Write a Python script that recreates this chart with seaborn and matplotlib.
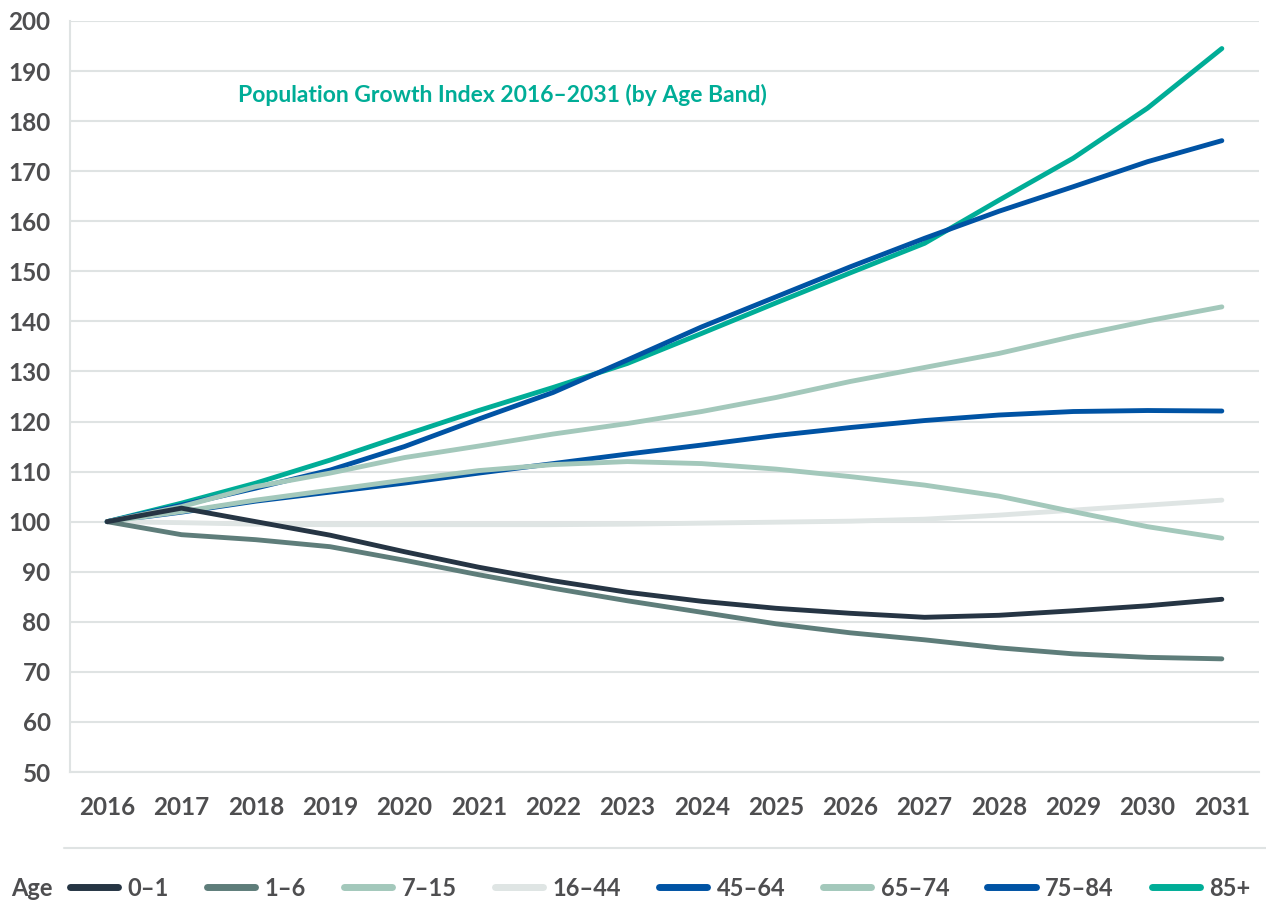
import matplotlib
matplotlib.use("Agg")
import matplotlib.pyplot as plt
import seaborn as sns
import pandas as pd
from matplotlib.lines import Line2D

years = list(range(2016, 2032))
bands = ["0–1", "1–6", "7–15", "16–44", "45–64", "65–74", "75–84", "85+"]
age_0_1 = [100, 102.7, 100.0, 97.3, 94.0, 90.9, 88.2, 85.9, 84.1, 82.7, 81.7, 80.9, 81.3, 82.2, 83.2, 84.5]
age_1_6 = [100, 97.4, 96.4, 95.0, 92.3, 89.4, 86.7, 84.2, 81.9, 79.6, 77.8, 76.4, 74.8, 73.6, 72.9, 72.6]
age_7_15 = [100, 102.0, 104.3, 106.3, 108.3, 110.2, 111.4, 112.0, 111.6, 110.5, 109.0, 107.3, 105.1, 102.0, 99.0, 96.7]
age_16_44 = [100, 99.8, 99.5, 99.4, 99.4, 99.4, 99.4, 99.5, 99.7, 99.9, 100.1, 100.5, 101.3, 102.3, 103.3, 104.3]
age_45_64 = [100, 101.9, 104.1, 105.9, 107.7, 109.7, 111.6, 113.5, 115.3, 117.2, 118.8, 120.2, 121.3, 122.0, 122.2, 122.1]
age_65_74 = [100, 103.0, 107.0, 109.7, 112.8, 115.1, 117.5, 119.6, 122.0, 124.8, 128.0, 130.8, 133.6, 137.0, 140.1, 142.9]
age_75_84 = [100, 103.3, 106.7, 110.3, 115.0, 120.5, 125.8, 132.3, 138.9, 144.9, 150.9, 156.6, 162.0, 166.9, 171.9, 176.1]
age_85_plus = [100, 103.7, 107.7, 112.3, 117.3, 122.2, 126.8, 131.6, 137.6, 143.7, 149.7, 155.6, 164.2, 172.6, 182.6, 194.5]
series = [age_0_1, age_1_6, age_7_15, age_16_44, age_45_64, age_65_74, age_75_84, age_85_plus]
colors = ["#263544", "#5e7d7a", "#a3c8bb", "#dfe5e4", "#0053a4", "#a3c8bb", "#0053a4", "#00ad97"]
title = "Population Growth Index 2016–2031 (by Age Band)"
y_ticks = list(range(50, 201, 10))

rows = []
for b, vals in zip(bands, series):
    for yr, v in zip(years, vals):
        rows.append({"Year": yr, "Band": b, "Index": v})
df = pd.DataFrame(rows)

sns.set_theme(style="white")
FAM = ["Lato", "DejaVu Sans"]
plt.rcParams["font.family"] = FAM
WEIGHT = "bold"

TXT = "#4e4e50"
GRID = "#dfe3e3"

fig = plt.figure(figsize=(12.66, 9.01), dpi=100)
ax = fig.add_axes([70 / 1266, 1 - 772 / 901, (1259 - 70) / 1266, (772 - 21) / 901])

for i in reversed(range(len(bands))):
    sub = df[df["Band"] == bands[i]]
    sns.lineplot(data=sub, x="Year", y="Index", color=colors[i], linewidth=3.5,
                 ax=ax, legend=False, solid_capstyle="round", zorder=3 + (len(bands) - i) * 0.01)

ax.set_xlim(years[0] - 0.5, years[-1] + 0.5)
ax.set_ylim(50, 200)
ax.set_yticks(y_ticks)
ax.set_xticks(years)
ax.set_xticks([y - 0.5 for y in years] + [years[-1] + 0.5], minor=True)
ax.set_xlabel("")
ax.set_ylabel("")
ax.grid(axis="y", color=GRID, linewidth=1.5, zorder=0)
ax.grid(axis="x", visible=False)
ax.set_axisbelow(True)

for s in ["top", "right"]:
    ax.spines[s].set_visible(False)
for s in ["left", "bottom"]:
    ax.spines[s].set_visible(True)
    ax.spines[s].set_color(GRID)
    ax.spines[s].set_linewidth(1.5)

ax.tick_params(axis="y", length=0, pad=14, labelsize=17.5, labelcolor=TXT)
ax.tick_params(axis="x", which="major", length=0, pad=17, labelsize=17.5, labelcolor=TXT)
ax.tick_params(axis="x", which="minor", direction="in", length=14, width=1.5, color=GRID)
for lab in ax.get_xticklabels() + ax.get_yticklabels():
    lab.set_fontweight(WEIGHT)

ax.text(238 / 1266, 1 - 95 / 901, title, transform=fig.transFigure, color="#00ad97",
        fontsize=16.5, fontweight=WEIGHT, ha="left", va="center")

# separator line above legend
fig.add_artist(Line2D([64 / 1266, 1.0], [1 - 848 / 901] * 2, transform=fig.transFigure,
                      color=GRID, linewidth=1.5))

fig.text(11 / 1266, 1 - 888 / 901, "Age", color=TXT, fontsize=17, fontweight=WEIGHT,
         ha="left", va="center")
handles = [Line2D([0], [0], color=c, linewidth=5, solid_capstyle="round") for c in colors]
fig.legend(handles, bands, loc="center left", bbox_to_anchor=(70 / 1266, 1 - 888 / 901),
           ncol=8, frameon=False, borderpad=0, borderaxespad=0, handlelength=2.05,
           handletextpad=0.4, columnspacing=1.6,
           prop={"family": FAM, "weight": WEIGHT, "size": 17},
           labelcolor=TXT)

fig.savefig("out.png", dpi=100)
